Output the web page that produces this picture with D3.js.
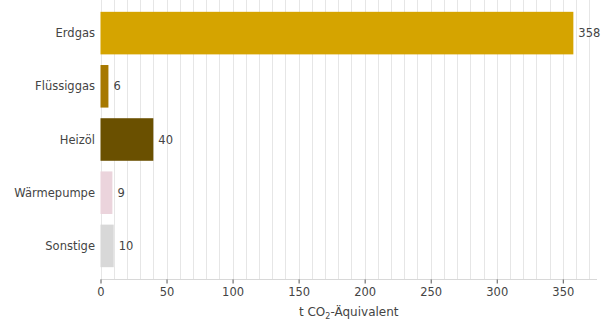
<!DOCTYPE html>
<html><head><meta charset="utf-8">
<script src="https://cdn.jsdelivr.net/npm/d3@7"></script>
<style>
html,body{margin:0;padding:0;background:#fff;}
svg{display:block;font-family:"DejaVu Sans",sans-serif;}
</style></head>
<body>
<svg id="c" width="607" height="322"></svg>
<script>
const categories = ["Erdgas","Flüssiggas","Heizöl","Wärmepumpe","Sonstige"];
const values = [358, 6, 40, 9, 10];
const colors = ["#d5a400","#a77900","#6a5000","#ebd4dc","#d8d8d8"];
const xTicks = [0,50,100,150,200,250,300,350];
const xLabel = "t CO₂-Äquivalent";

(function(){
const svg = d3.select("#c");
const mLeft = 100.5, mRight = 597, mTop = 6.5, mBottom = 272.5, axisY = 279.5;
const x = d3.scaleLinear().domain([0, d3.max(values)*1.05]).range([mLeft, mRight]);
const y = d3.scaleBand().domain(categories).range([mTop, mBottom]).paddingInner(0.2).paddingOuter(0.1);

// minor grid
const grid = d3.range(0, x.domain()[1], 10);
svg.append("g").selectAll("line").data(grid).join("line")
  .attr("x1", d=>Math.round(x(d))+0.5).attr("x2", d=>Math.round(x(d))+0.5)
  .attr("y1", 0).attr("y2", axisY)
  .attr("stroke", "#e6e6e6").attr("stroke-width", 1);

// bars
svg.append("g").selectAll("rect").data(categories).join("rect")
  .attr("x", x(0)).attr("y", d=>y(d))
  .attr("width", (d,i)=>x(values[i])-x(0)).attr("height", y.bandwidth())
  .attr("fill", (d,i)=>colors[i]);

// value labels
svg.append("g").selectAll("text").data(categories).join("text")
  .attr("x", (d,i)=>x(values[i])+5).attr("y", d=>y(d)+y.bandwidth()/2)
  .attr("dy","0.35em").attr("font-size", 11.5).attr("fill","#444")
  .text((d,i)=>values[i]);

// category labels
svg.append("g").selectAll("text").data(categories).join("text")
  .attr("x", 95).attr("y", d=>y(d)+y.bandwidth()/2)
  .attr("dy","0.35em").attr("text-anchor","end").attr("font-size", 11.5).attr("fill","#444")
  .text(d=>d);

// x axis
const ax = svg.append("g").attr("transform", `translate(0,${axisY})`)
  .call(d3.axisBottom(x).tickValues(xTicks).tickSize(4).tickPadding(4).tickFormat(d3.format("d")));
ax.select(".domain").attr("stroke","#d8d8d8").attr("d", `M${mLeft},0H${mRight}`);
ax.selectAll(".tick line").attr("stroke","#555");
ax.selectAll(".tick text").attr("font-size", 11.5).attr("fill","#444").attr("font-family","DejaVu Sans");

// x label
const lbl = svg.append("text").attr("x", (mLeft+mRight)/2).attr("y", 316)
  .attr("text-anchor","middle").attr("font-size", 12).attr("fill","#444");
lbl.append("tspan").text("t CO");
lbl.append("tspan").attr("font-size", 8).attr("dy", 3).text("2");
lbl.append("tspan").attr("dy", -3).text("-Äquivalent");
})();
</script>
</body></html>
